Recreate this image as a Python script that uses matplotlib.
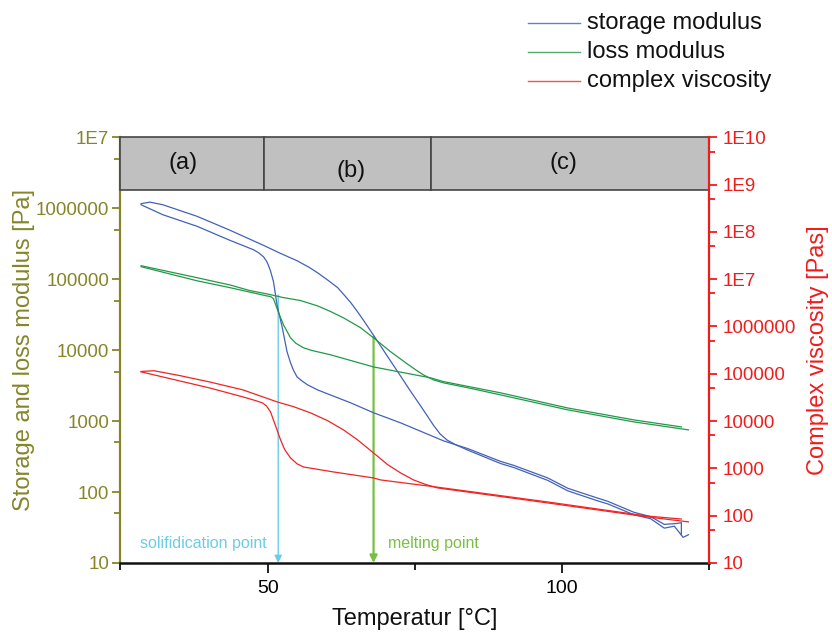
import matplotlib
matplotlib.use('Agg')
import matplotlib.pyplot as plt
from matplotlib.patches import Rectangle
from matplotlib.lines import Line2D
from matplotlib.ticker import FixedLocator, FixedFormatter, NullFormatter

plt.rcParams['font.family'] = ['Liberation Sans', 'DejaVu Sans']

# ---------------- data ----------------
# storage modulus [Pa], heating branch (ascending T)
storage_heat_T = [28.5, 30.0, 32.2, 38.0, 43.6, 49.3, 52.0, 55.0, 57.0, 58.5, 60.3, 61.9,
                  63.0, 64.1, 65.2, 66.3, 68.0, 70.4, 72.6, 74.2, 75.5, 77.0, 78.2, 79.3,
                  80.5, 82.0, 84.0, 89.6, 91.8, 97.6, 101.0, 106.1, 107.8, 112.2, 115.1,
                  117.4, 119.1, 120.6, 121.5]
storage_heat = [1.16e6, 1.22e6, 1.12e6, 7.7e5, 4.9e5, 3.0e5, 2.35e5, 1.82e5, 1.48e5, 1.23e5,
                9.6e4, 7.6e4, 6.0e4, 4.7e4, 3.55e4, 2.63e4, 1.62e4, 8.1e3, 4.3e3, 2.7e3,
                1.88e3, 1.23e3, 870, 660, 540, 462, 390, 252, 222, 146, 104, 75, 68, 48, 42,
                31, 33, 23, 25]
# storage modulus [Pa], cooling branch (descending T)
storage_cool_T = [120.3, 120.3, 119.5, 117.4, 115.1, 112.2, 107.8, 106.1, 101.0, 97.6, 91.8,
                  89.6, 84.0, 79.9, 72.6, 68.0, 64.1, 60.2, 58.5, 56.8, 55.8, 55.0, 54.4,
                  53.9, 53.3, 52.5, 51.6, 51.0, 50.5, 50.1, 49.8, 49.3, 48.5, 47.6, 43.6,
                  38.0, 32.2, 28.5]
storage_cool = [25, 37, 36, 35, 45, 52, 74, 82, 113, 158, 238, 270, 410, 526, 944, 1310,
                1810, 2420, 2750, 3240, 3700, 4200, 5200, 6600, 9500, 2.06e4, 4.35e4, 9.2e4,
                1.3e5, 1.6e5, 1.8e5, 2.07e5, 2.35e5, 2.6e5, 3.53e5, 5.57e5, 8.1e5, 1.12e6]

# loss modulus [Pa]
loss_heat_T = [28.5, 38.0, 43.6, 47.0, 49.9, 52.7, 55.6, 58.5, 60.7, 62.9, 65.8, 68.0, 70.9,
               73.5, 75.2, 76.5, 78.2, 79.9, 84.0, 89.6, 101.0, 112.2, 121.5]
loss_heat = [1.55e5, 1.05e5, 8.3e4, 6.9e4, 6.2e4, 5.5e4, 5.0e4, 4.2e4, 3.5e4, 2.85e4, 2.07e4,
             1.49e4, 9.5e3, 6.6e3, 5.25e3, 4.47e3, 3.8e3, 3.46e3, 2.95e3, 2.34e3, 1.44e3, 975,
             752]
loss_cool_T = [120.3, 112.2, 101.0, 89.6, 79.9, 77.7, 72.6, 68.0, 60.7, 57.5, 56.1, 54.8,
               53.9, 52.7, 51.8, 51.0, 50.5, 49.9, 43.6, 38.0, 28.5]
loss_cool = [828, 1040, 1530, 2500, 3600, 4070, 4900, 5800, 8600, 9900, 1.08e4, 1.25e4,
             1.49e4, 2.27e4, 3.47e4, 5.3e4, 5.7e4, 5.8e4, 7.6e4, 9.5e4, 1.5e5]

# complex viscosity [Pas]
visc_heat_T = [28.5, 30.7, 35.0, 40.2, 45.8, 51.6, 54.5, 57.3, 60.2, 62.9, 65.3, 68.0, 70.4,
               72.6, 74.8, 76.8, 78.9, 97.6, 114.6, 121.5]
visc_heat = [1.12e5, 1.16e5, 9.2e4, 6.7e4, 4.57e4, 2.55e4, 2.0e4, 1.49e4, 1.02e4, 6.5e3,
             4.0e3, 2.12e3, 1.2e3, 802, 570, 460, 386, 186, 94, 74]
visc_cool_T = [120.3, 114.6, 97.6, 78.9, 69.2, 68.0, 61.2, 56.1, 55.0, 53.9, 52.9, 52.2, 51.6,
               50.5, 49.8, 49.1, 48.0, 45.8, 40.2, 28.5]
visc_cool = [85, 98, 195, 400, 570, 628, 841, 1070, 1250, 1660, 2500, 4000, 6500, 1.56e4,
             2.1e4, 2.43e4, 2.7e4, 3.25e4, 5.0e4, 1.1e5]

# regions (a), (b), (c)
region_edges = [25, 49.4, 77.7, 125]
region_labels = ['(a)', '(b)', '(c)']
region_label_T = [35.6, 64.1, 100.3]
region_label_y = [4.3e6, 3.3e6, 4.3e6]

solid_T, solid_top = 51.8, 6.0e4
melt_T, melt_top = 68.0, 1.55e4

left_ticks = [10, 100, 1000, 10000, 100000, 1000000, 1e7]
left_ticklabels = ['10', '100', '1000', '10000', '100000', '1000000', '1E7']
right_ticks = [10, 100, 1000, 1e4, 1e5, 1e6, 1e7, 1e8, 1e9, 1e10]
right_ticklabels = ['10', '100', '1000', '10000', '100000', '1000000', '1E7', '1E8', '1E9', '1E10']

# ---------------- style ----------------
C_BLUE = '#4262B8'
C_GREEN = '#23984A'
C_RED = '#F02424'
C_OLIVE = '#85852A'
C_AXRED = '#F01C1C'
C_CYAN = '#6CCCE6'
C_LGREEN = '#78C043'

fig = plt.figure(figsize=(8.32, 6.33), dpi=100)
ax = fig.add_axes([0.1448, 0.1106, 0.7074, 0.6725])
ax2 = ax.twinx()

ax.set_xlim(25, 125)
ax.set_yscale('log')
ax.set_ylim(10, 1e7)
ax2.set_yscale('log')
ax2.set_ylim(10, 1e10)

lw = 0.9
ax.plot(storage_heat_T, storage_heat, color=C_BLUE, lw=lw)
ax.plot(storage_cool_T, storage_cool, color=C_BLUE, lw=lw)
ax.plot(loss_heat_T, loss_heat, color=C_GREEN, lw=lw)
ax.plot(loss_cool_T, loss_cool, color=C_GREEN, lw=lw)
ax2.plot(visc_heat_T, visc_heat, color=C_RED, lw=lw)
ax2.plot(visc_cool_T, visc_cool, color=C_RED, lw=lw)

# region band
for i in range(len(region_labels)):
    x0, x1 = region_edges[i], region_edges[i + 1]
    ax.add_patch(Rectangle((x0, 1.78e6), x1 - x0, 1e7 - 1.78e6, facecolor='#C0C0C0',
                           edgecolor='#454545', lw=1.2, clip_on=False, zorder=5))
    ax.text(region_label_T[i], region_label_y[i], region_labels[i], fontsize=17,
            ha='center', va='center', color='#111111', zorder=6)

# arrows
ax.annotate('', xy=(solid_T, 10), xytext=(solid_T, solid_top),
            arrowprops=dict(arrowstyle='-|>', color=C_CYAN, lw=1.0, mutation_scale=11,
                            shrinkA=0, shrinkB=0), zorder=1)
ax.annotate('', xy=(melt_T, 10), xytext=(melt_T, melt_top),
            arrowprops=dict(arrowstyle='-|>', color=C_LGREEN, lw=1.6, mutation_scale=11,
                            shrinkA=0, shrinkB=0), zorder=1)
ax.text(28.3, 19, 'solifidication point', color=C_CYAN, fontsize=11.5, ha='left', va='center')
ax.text(70.4, 19, 'melting point', color=C_LGREEN, fontsize=11.5, ha='left', va='center')

# axes styling
ax.spines['top'].set_visible(False)
ax2.spines['top'].set_visible(False)
ax.spines['right'].set_visible(False)
ax2.spines['left'].set_visible(False)
ax2.spines['bottom'].set_visible(False)
ax.spines['left'].set_color(C_OLIVE)
ax.spines['left'].set_linewidth(1.6)
ax.spines['bottom'].set_color('#111111')
ax.spines['bottom'].set_linewidth(1.8)
ax2.spines['right'].set_color(C_AXRED)
ax2.spines['right'].set_linewidth(1.6)

ax.xaxis.set_major_locator(FixedLocator([50, 100]))
ax.xaxis.set_minor_locator(FixedLocator([25, 75, 125]))
ax.xaxis.set_minor_formatter(NullFormatter())
ax.tick_params(axis='x', which='major', direction='out', length=7.5, width=1.3,
               labelsize=14, pad=5, color='#111111')
ax.tick_params(axis='x', which='minor', direction='out', length=5, width=1.3, color='#111111')

ax.yaxis.set_major_locator(FixedLocator(left_ticks))
ax.yaxis.set_major_formatter(FixedFormatter(left_ticklabels))
ax.yaxis.set_minor_locator(FixedLocator([5 * t for t in left_ticks[:-1]]))
ax.yaxis.set_minor_formatter(NullFormatter())
ax.tick_params(axis='y', which='major', direction='out', length=6, width=1.3,
               labelsize=13.5, pad=2, color=C_OLIVE, labelcolor=C_OLIVE)
ax.tick_params(axis='y', which='minor', direction='out', length=4, width=1.3, color=C_OLIVE)

ax2.yaxis.set_major_locator(FixedLocator(right_ticks))
ax2.yaxis.set_major_formatter(FixedFormatter(right_ticklabels))
ax2.yaxis.set_minor_locator(FixedLocator([5 * t for t in right_ticks[:-1]]))
ax2.yaxis.set_minor_formatter(NullFormatter())
ax2.tick_params(axis='y', which='major', direction='out', length=6, width=1.3,
                labelsize=13.5, pad=4, color=C_AXRED, labelcolor=C_AXRED)
ax2.tick_params(axis='y', which='minor', direction='out', length=4, width=1.3, color=C_AXRED)

ax.set_xlabel('Temperatur [°C]', fontsize=17, color='#111111')
ax.xaxis.set_label_coords(0.5, -0.105)
ax.set_ylabel('Storage and loss modulus [Pa]', fontsize=17, color=C_OLIVE)
ax.yaxis.set_label_coords(-0.146, 0.5)
ax2.set_ylabel('Complex viscosity [Pas]', fontsize=17, color=C_AXRED)
ax2.yaxis.set_label_coords(1.166, 0.5)

# legend (figure level, top right)
legend_items = [('storage modulus', C_BLUE), ('loss modulus', C_GREEN), ('complex viscosity', C_RED)]
line_y = [0.9637, 0.9179, 0.8720]
for (lab, col), yy in zip(legend_items, line_y):
    fig.add_artist(Line2D([0.6346, 0.6971], [yy, yy], color=col, lw=1.0, alpha=0.8,
                          transform=fig.transFigure))
    fig.text(0.7055, yy - 0.0095, lab, fontsize=17, ha='left', va='baseline', color='#111111')

fig.savefig('out.png', dpi=100)
